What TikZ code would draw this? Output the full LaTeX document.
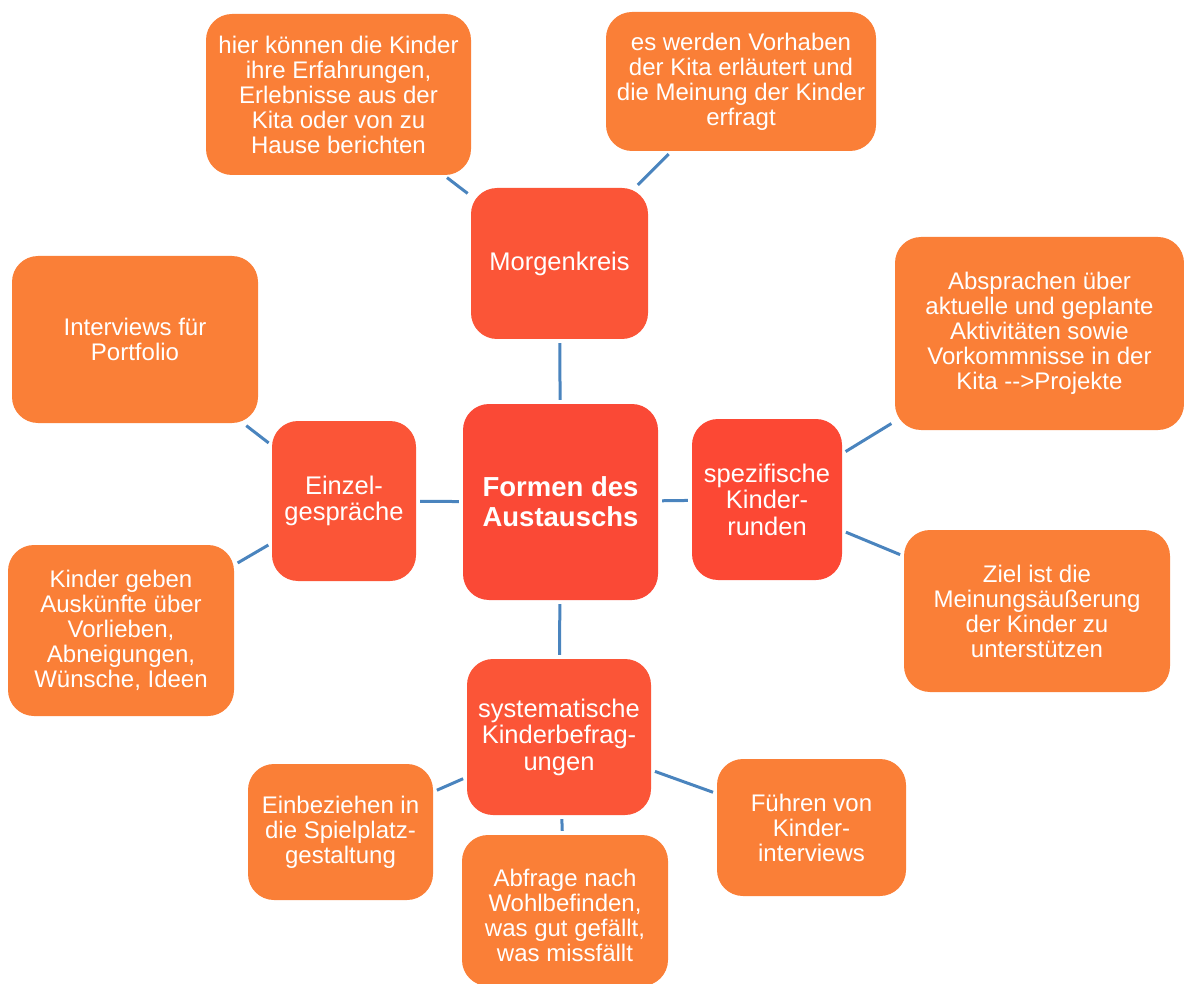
\documentclass[tikz,border=0pt]{standalone}
\usepackage{fontspec}
\setmainfont{Liberation Sans}
\definecolor{leafc}{HTML}{FA7F37}
\definecolor{childc}{HTML}{FB5537}
\definecolor{centerc}{HTML}{FA4936}
\definecolor{childred}{HTML}{FC4834}
\definecolor{linec}{HTML}{4A84BE}
\tikzset{
  box/.style={rectangle, rounded corners=26pt, fill=#1, text=white, align=center, inner sep=0pt},
  leaf/.style={box=leafc, font=\fontsize{24}{25}\selectfont},
  child/.style={box=childc, font=\fontsize{25.5}{26.5}\selectfont},
  hub/.style={box=centerc, font=\fontsize{27.5}{30}\selectfont\bfseries},
  conn/.style={draw=linec, line width=3pt, shorten >=4pt, shorten <=4pt},
}
\begin{document}
\begin{tikzpicture}[x=1pt,y=-1pt]
\useasboundingbox (0,0) rectangle (1184,984);
% hub
\node[hub, minimum width=195pt, minimum height=196pt] (C) at (560.5,502) {Formen des\\Austauschs};
% children
\node[child, minimum width=177pt, minimum height=151pt] (M) at (559.5,263.5) {Morgenkreis};
\node[child, minimum width=144pt, minimum height=160pt] (E) at (344,501) {Einzel-\\gespräche};
\node[child, fill=childred, minimum width=150pt, minimum height=161pt] (S) at (767,499.5) {spezifische\\Kinder-\\runden};
\node[child, minimum width=184pt, minimum height=156pt] (B) at (559,737) {systematische\\Kinderbefrag-\\ungen};
% leaves
\node[leaf, minimum width=265pt, minimum height=161pt] (L1) at (338.5,94.5) {hier können die Kinder\\ihre Erfahrungen,\\Erlebnisse aus der\\Kita oder von zu\\Hause berichten};
\node[leaf, minimum width=270pt, minimum height=139pt] (L2) at (741,81.5) {es werden Vorhaben\\der Kita erläutert und\\die Meinung der Kinder\\erfragt};
\node[leaf, minimum width=246pt, minimum height=167pt] (L3) at (135,339.5) {Interviews für\\Portfolio};
\node[leaf, minimum width=226pt, minimum height=171pt] (L4) at (121,630.5) {Kinder geben\\Auskünfte über\\Vorlieben,\\Abneigungen,\\Wünsche, Ideen};
\node[leaf, minimum width=289pt, minimum height=193pt] (L5) at (1039.5,333.5) {Absprachen über\\aktuelle und geplante\\Aktivitäten sowie\\Vorkommnisse in der\\Kita -{}->Projekte};
\node[leaf, minimum width=266pt, minimum height=162pt] (L6) at (1037,611) {Ziel ist die\\Meinungsäußerung\\der Kinder zu\\unterstützen};
\node[leaf, minimum width=185pt, minimum height=136pt] (L7) at (340.5,832) {Einbeziehen in\\die Spielplatz-\\gestaltung};
\node[leaf, minimum width=206pt, minimum height=151pt] (L8) at (565,910.5) {\raisebox{-5pt}[\height][\depth]{\parbox{206pt}{\centering Abfrage nach\\Wohlbefinden,\\was gut gefällt,\\was missfällt}}};
\node[leaf, minimum width=189pt, minimum height=137pt] (L9) at (811.5,827.5) {Führen von\\Kinder-\\interviews};
% connectors
\draw[conn] (C) -- (M);
\draw[conn] (C) -- (E);
\draw[conn] (C) -- (S);
\draw[conn] (C) -- (B);
\draw[conn] (M) -- (L1);
\draw[conn] (M) -- (L2);
\draw[conn] (E) -- (L3);
\draw[conn] (E) -- (L4);
\draw[conn] (S) -- (L5);
\draw[conn] (S) -- (L6);
\draw[conn] (B) -- (L7);
\draw[conn] (B) -- (L8);
\draw[conn] (B) -- (L9);
\end{tikzpicture}
\end{document}
